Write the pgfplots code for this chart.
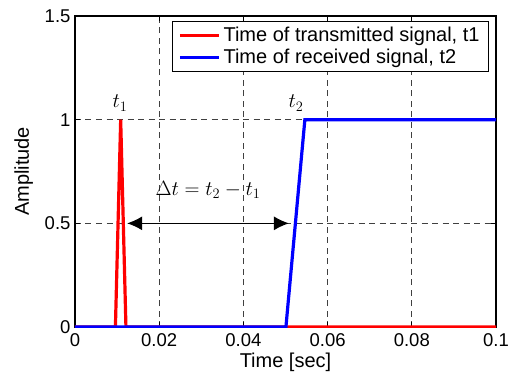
\documentclass[border=0pt]{standalone}
\usepackage{pgfplots}
\pgfplotsset{compat=1.18}
\usepackage{fontspec}
\setmainfont{Liberation Sans}
\usetikzlibrary{arrows.meta}
\begin{document}
\begin{tikzpicture}
\begin{axis}[
  scale only axis,
  width=421pt, height=311pt,
  xmin=0, xmax=0.1, ymin=0, ymax=1.5,
  xtick={0,0.02,0.04,0.06,0.08,0.1},
  ytick={0,0.5,1,1.5},
  xticklabels={0,0.02,0.04,0.06,0.08,0.1},
  yticklabels={0,0.5,1,1.5},
  scaled x ticks=false,
  /pgf/number format/assume math mode=true,
  tick label style={font=\fontsize{18.5}{21}\selectfont},
  xticklabel style={yshift=-3.5pt},
  yticklabel style={xshift=-1pt},
  xlabel={Time [sec]},
  ylabel={Amplitude},
  xlabel style={font=\fontsize{20}{24}\selectfont, at={(axis description cs:0.5,-0.1318)}, anchor=base},
  ylabel style={font=\fontsize{20}{24}\selectfont, at={(axis description cs:-0.1093,0.5)}, anchor=base},
  grid=major,
  major grid style={black!75, dash pattern=on 6pt off 4.5pt, line width=0.7pt},
  tick align=inside,
  tick pos=both,
  axis line style={black, line width=1.1pt},
  major tick style={black, line width=0.8pt},
  major tick length=5pt,
  legend style={at={(0.9834,0.9839)}, anchor=north east, draw=black, fill=white, line width=0.9pt,
    font=\fontsize{20}{24}\selectfont, inner xsep=6pt, inner ysep=3pt, row sep=0pt,
    nodes={inner sep=3pt}},
  legend cell align=left,
  legend image code/.code={\draw[#1] (0pt,0pt) -- (39pt,0pt);},
]
\addplot[red, line width=3.2pt] coordinates {(0,0) (0.0096,0) (0.01085,1) (0.0121,0) (0.1,0)};
\addlegendentry{Time of transmitted signal, t1}
\addplot[blue, line width=3.2pt] coordinates {(0,0) (0.0501,0) (0.0546,1) (0.1,1)};
\addlegendentry{Time of received signal, t2}
\draw[{Latex[length=15pt,width=14pt]}-{Latex[length=15pt,width=14pt]}, line width=1pt] (axis cs:0.0124,0.5) -- (axis cs:0.0508,0.5);
\node[font=\fontsize{21}{25}\selectfont] at (axis cs:0.0316,0.66) {$\Delta t = t_2 - t_1$};
\node[font=\fontsize{22}{26}\selectfont] at (axis cs:0.0107,1.08) {$t_1$};
\node[font=\fontsize{22}{26}\selectfont] at (axis cs:0.0525,1.08) {$t_2$};
\end{axis}
\pgfresetboundingbox
\useasboundingbox (-75pt,-49pt) rectangle (441pt,327pt);
\end{tikzpicture}
\end{document}
